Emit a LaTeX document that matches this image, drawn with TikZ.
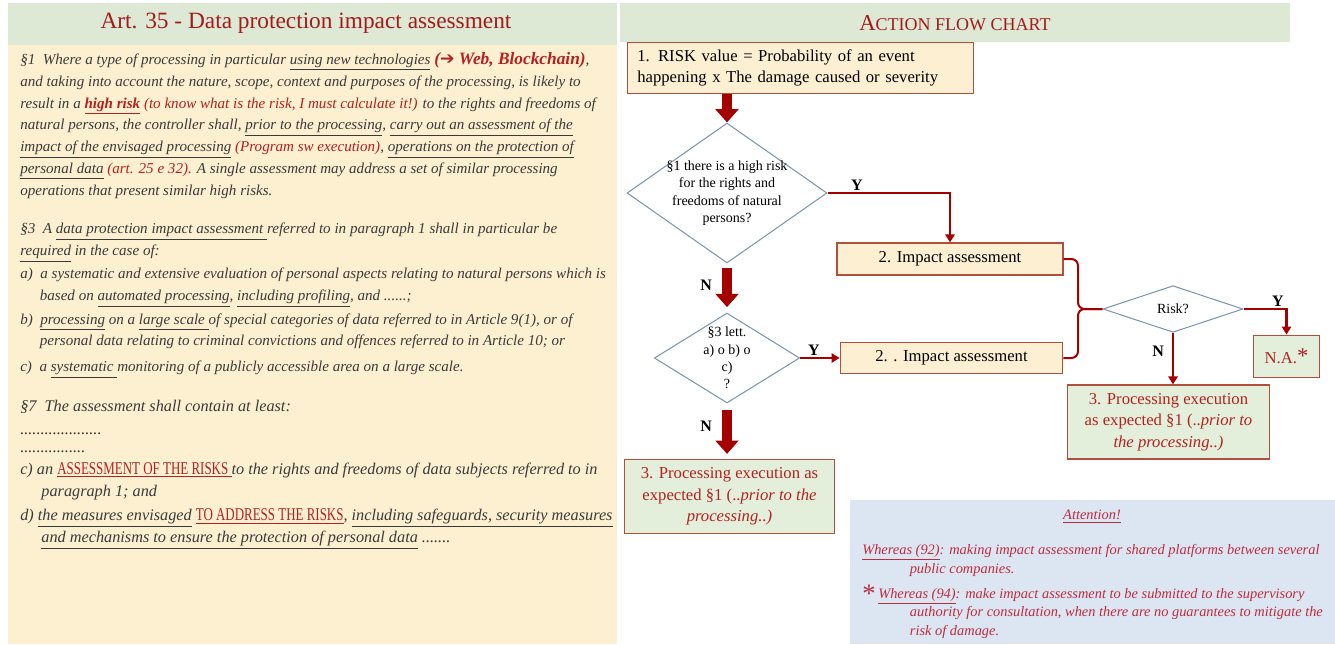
\documentclass[tikz,border=0pt]{standalone}
\usepackage{fontspec}
\setmainfont{Liberation Serif}
\newfontfamily\dejavu{DejaVu Sans}
\usetikzlibrary{arrows.meta, shapes.geometric, positioning}

\definecolor{bandgreen}{HTML}{DDE9D5}
\definecolor{panelyellow}{HTML}{FDF0D0}
\definecolor{boxyellow}{HTML}{FCEFD2}
\definecolor{boxgreen}{HTML}{E3EFDA}
\definecolor{noteblue}{HTML}{DCE6F2}
\definecolor{titlered}{HTML}{A31B1B}
\definecolor{txtred}{HTML}{B22222}
\definecolor{arrowred}{HTML}{A50000}
\definecolor{boxedge}{HTML}{B0503C}
\definecolor{diamedge}{HTML}{7F97B2}
\definecolor{bodygray}{HTML}{3A3A3A}
\definecolor{notered}{HTML}{BC2B3E}

\newcommand{\uln}[1]{\underline{#1}}
\newcommand{\rd}[1]{\textcolor{txtred}{#1}}
\newcommand{\capsred}[1]{\rd{\upshape\fontsize{13.5}{16}\selectfont\scalebox{0.72}[1]{\uln{#1}}}}

\tikzset{
  stepbox/.style={draw=boxedge, line width=0.9pt, fill=boxyellow, inner sep=0pt, font=\fontsize{12.5}{15.5}\selectfont},
  endbox/.style={draw=boxedge, line width=0.9pt, fill=boxgreen, inner sep=0pt, text=txtred, align=center, font=\fontsize{12.5}{16}\selectfont},
  decision/.style={diamond, draw=diamedge, line width=0.8pt, fill=white, inner sep=0pt},
  qtext/.style={align=center, font=\fontsize{10.5}{13}\selectfont, inner sep=0pt},
  bigarrow/.style={draw=arrowred, line width=6.8pt, -{Triangle[width=17pt,length=10pt]}},
  thinarrow/.style={draw=arrowred, line width=1.8pt, -{Triangle[width=7pt,length=6pt]}},
  joinline/.style={draw=arrowred, line width=1.5pt, rounded corners=5pt},
  yn/.style={font=\bfseries\fontsize{12}{12}\selectfont, inner sep=1pt},
  bodytext/.style={anchor=north west, align=left, inner sep=0pt, text=bodygray, font=\itshape\fontsize{11.3}{16.4}\selectfont},
  notetext/.style={anchor=north west, align=left, inner sep=0pt, text=notered, font=\itshape\fontsize{10.8}{14}\selectfont}
}

\begin{document}
\begin{tikzpicture}[x=0.75pt, y=-0.75pt]
\useasboundingbox (0,0) rectangle (1335,644);
% backgrounds
\fill[bandgreen] (8,3) rectangle (617,45);
\fill[panelyellow] (8,45) rectangle (617,644);
\fill[bandgreen] (620,3) rectangle (1290,42);
\fill[noteblue] (850,500) rectangle (1335,644);

\node[text=titlered, font=\fontsize{17.5}{20}\selectfont] (arttitle) at (306,23) {Art. 35 - Data protection impact assessment};
\node[text=titlered] (flowtitle) at (955,23) {{\fontsize{17}{18}\selectfont A}{\fontsize{13.5}{18}\selectfont CTION FLOW CHART}};

% article text
\node[bodytext] (p1) at (20,52) {%
\S1\ \ Where a type of processing in particular \uln{using new technologies} \rd{\bfseries\fontsize{13}{16.4}\selectfont ({\dejavu\upshape\mdseries ➔} Web, Blockchain)},\\
and taking into account the nature, scope, context and purposes of the processing, is likely to\\
result in a \rd{\bfseries\uln{high risk}} \rd{(to know what is the risk, I must calculate it!)} to the rights and freedoms of\\
natural persons, the controller shall, \uln{prior to the processing}, \uln{carry out an assessment of the}\\
\uln{impact of the envisaged processing} \rd{(Program sw execution)}, \uln{operations on the protection of}\\
\uln{personal data} \rd{(art. 25 e 32).} A single assessment may address a set of similar processing\\
operations that present similar high risks.};

\node[bodytext] (p3) at (20,223) {%
\S3\ \ A \uln{data protection impact assessment }referred to in paragraph 1 shall in particular be\\
\uln{required} in the case of:\\[1pt]
a)\ \ a systematic and extensive evaluation of personal aspects relating to natural persons which is\\
\hspace*{1.3em}based on \uln{automated processing}, \uln{including profiling}, and ......;\\[1pt]
b)\ \ \uln{processing} on a \uln{large scale }of special categories of data referred to in Article 9(1), or of\\
\hspace*{1.3em}personal data relating to criminal convictions and offences referred to in Article 10; or\\[3pt]
c)\ \ a \uln{systematic }monitoring of a publicly accessible area on a large scale.};

\node[bodytext, font=\itshape\fontsize{12.2}{16.4}\selectfont] (p7) at (20,400) {%
\S7\ \ The assessment shall contain at least:\\[1pt]
....................\\[-3pt]
................\\
c) an \capsred{ASSESSMENT OF THE RISKS }to the rights and freedoms of data subjects referred to in\\
\hspace*{1.3em}paragraph 1; and\\[2pt]
d) \uln{the measures envisaged} \capsred{TO ADDRESS THE RISKS}, \uln{including safeguards, security measures}\\
\hspace*{1.3em}\uln{and mechanisms to ensure the protection of personal data} .......};

% flow chart
\node[stepbox, anchor=north west, minimum width=259.5pt, minimum height=38pt, text width=245pt, align=left] (risk1) at (627,42)
  {1. RISK value = Probability of an event\\happening x The damage caused or severity};
\node[decision, minimum width=150pt, minimum height=105pt] (q1) at (727,193) {};
\node[qtext] (q1t) at (q1) {\S1 there is a high risk\\for the rights and\\freedoms of natural\\persons?};
\node[stepbox, minimum width=169.5pt, minimum height=24pt] (imp1) at (950,259) {2. Impact assessment};
\node[decision, minimum width=109pt, minimum height=67.5pt] (q2) at (727,358) {};
\node[qtext] (q2t) at (q2) {\S3 lett.\\a) o b) o\\c)\\?};
\node[stepbox, minimum width=167pt, minimum height=23.5pt] (imp2) at (951.5,358) {2. . Impact assessment};
\node[endbox, minimum width=157pt, minimum height=55pt] (proc1) at (729.5,496.5)
  {3. Processing execution as\\expected \S1 (..\textit{prior to the}\\\textit{processing..)}};
\node[decision, minimum width=105pt, minimum height=35pt] (risk) at (1173,309) {};
\node[qtext] (riskt) at (risk) {Risk?};
\node[endbox, minimum width=50pt, minimum height=32pt] (na) at (1286.5,356.5) {N.A.{\fontsize{17}{17}\selectfont*}};
\node[endbox, minimum width=152pt, minimum height=55.5pt] (proc2) at (1168.5,422)
  {3. Processing execution\\as expected \S1 (..\textit{prior to}\\\textit{the processing..)}};

\draw[bigarrow] (q1.north |- risk1.south) -- (q1.north);
\draw[thinarrow] (q1.east) -| node[yn, pos=0.12, above] (y1) {Y} (imp1.north);
\draw[bigarrow, shorten <=3pt, shorten >=4pt] (q1.south) -- node[yn, left=7pt, pos=0.45] (n1) {N} (q2.north);
\draw[thinarrow] (q2.east) -- node[yn, above, pos=0.35] (y2) {Y} (imp2.west);
\draw[bigarrow, shorten <=5pt, shorten >=4pt] (q2.south) -- node[yn, left=7pt, pos=0.4] (n2) {N} (q2.south |- proc1.north);
\draw[joinline] (imp1.east) -- (1078,259) -- (1078,309) -- (risk.west);
\draw[joinline] (imp2.east) -- (1078,358) -- (1078,309) -- (risk.west);
\draw[thinarrow] (risk.east) -| node[yn, pos=0.4, above] (y3) {Y} (na.north);
\draw[thinarrow] (risk.south) -- node[yn, left=5pt, pos=0.35] (n3) {N} (risk.south |- proc2.north);

% note
\node[notetext, anchor=north] (att) at (1092,510) {\uln{Attention!}};
\node[notetext] (w92) at (862,544) {\uln{Whereas (92)}: making impact assessment for shared platforms between several\\\hspace*{3.3em}public companies.};
\node[text=notered, font=\fontsize{20}{20}\selectfont, inner sep=0pt] (star) at (869,594) {*};
\node[notetext] (w94) at (878,588) {\uln{Whereas (94)}: make impact assessment to be submitted to the supervisory\\\hspace*{2.2em}authority for consultation, when there are no guarantees to mitigate the\\\hspace*{2.2em}risk of damage.};
\end{tikzpicture}
\end{document}
